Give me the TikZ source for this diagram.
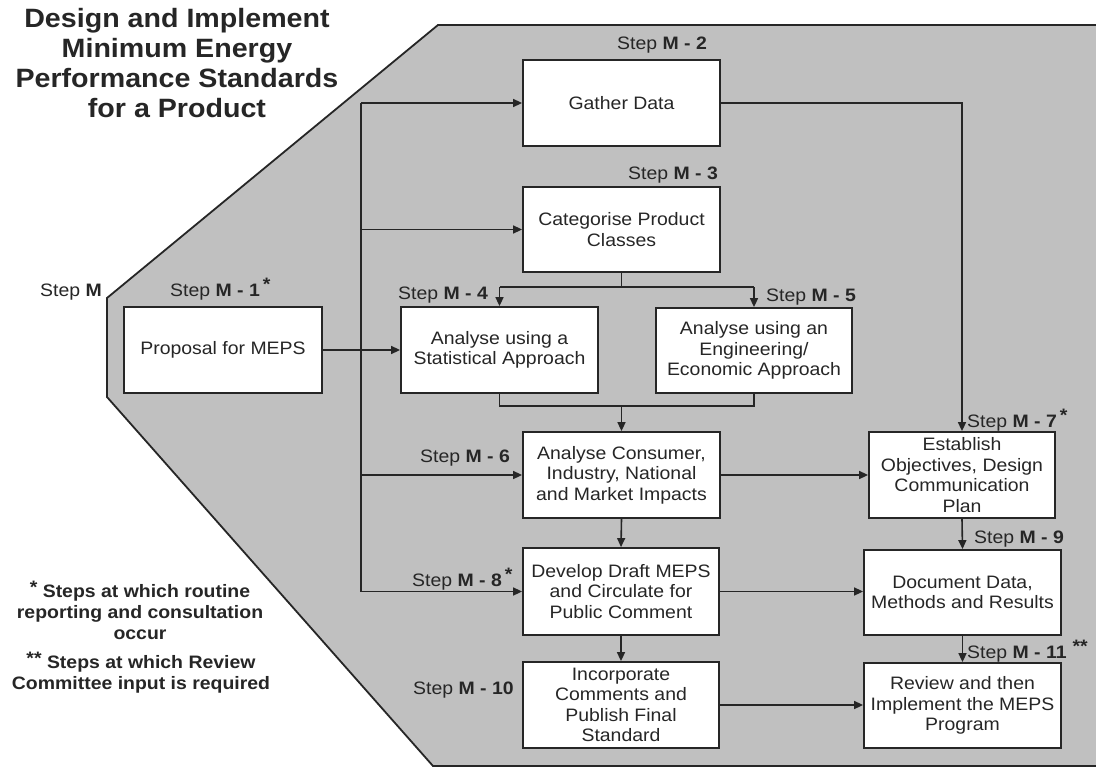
\documentclass[tikz,border=0pt]{standalone}
\usepackage{fontspec}
\setmainfont[FakeStretch=1.08]{Liberation Sans}
\usetikzlibrary{arrows.meta}
\definecolor{panel}{HTML}{C0C0C0}
\definecolor{ink}{HTML}{262626}
\begin{document}
\begin{tikzpicture}[x=1pt,y=-1pt,
  box/.style={draw=ink, line width=1.8pt, fill=white, align=center,
    font=\fontsize{18}{20.5}\selectfont, text=ink, inner sep=2pt},
  conn/.style={draw=ink, line width=1.6pt},
  arr/.style={conn, -{Triangle[length=9pt,width=8pt]}},
  steplbl/.style={anchor=base west, font=\fontsize{18}{20}\selectfont, text=ink, inner sep=0pt},
  titlestyle/.style={align=center, font=\fontsize{26.5}{29.7}\selectfont\bfseries, text=ink},
  legendstyle/.style={align=center, font=\fontsize{18}{21}\selectfont\bfseries, text=ink},
]
\useasboundingbox (0,0) rectangle (1096,768);
\fill[white] (0,0) rectangle (1096,768);
\draw[fill=panel, draw=ink, line width=1.8pt]
  (438,25) -- (1104,25) -- (1104,766) -- (433,766) -- (107,397) -- (107,298) -- cycle;

% title
\node[titlestyle] (title) at (177,63) {Design and Implement\\Minimum Energy\\Performance Standards\\for a Product};

% legend (base anchor = baseline of last line)
\node[legendstyle, anchor=base] (leg1) at (140,639) {\raisebox{4pt}{*} Steps at which routine\\reporting and consultation\\occur};
\node[legendstyle, anchor=base] (leg2) at (141,689) {\raisebox{4pt}{**} Steps at which Review\\Committee input is required};

% boxes
\node[box, minimum width=197pt, minimum height=86pt] (gather) at (621.5,103) {Gather Data};
\node[box, minimum width=197pt, minimum height=85pt] (categ) at (621.5,229.5) {Categorise Product\\Classes};
\node[box, minimum width=198pt, minimum height=86pt] (prop) at (223,350) {Proposal for MEPS};
\node[box, minimum width=197pt, minimum height=86pt] (stat) at (499.5,350) {Analyse using a\\Statistical Approach};
\node[box, minimum width=196pt, minimum height=85pt] (eng) at (754,350.5) {Analyse using an\\Engineering/\\Economic Approach};
\node[box, minimum width=197pt, minimum height=86pt] (cons) at (621.5,475) {Analyse Consumer,\\Industry, National\\and Market Impacts};
\node[box, minimum width=186pt, minimum height=86pt] (estab) at (962,475) {Establish\\Objectives, Design\\Communication\\Plan};
\node[box, minimum width=196pt, minimum height=87pt] (dev) at (621,591.5) {Develop Draft MEPS\\and Circulate for\\Public Comment};
\node[box, minimum width=197pt, minimum height=85pt] (doc) at (962.5,592.5) {Document Data,\\Methods and Results};
\node[box, minimum width=196pt, minimum height=86pt] (inc) at (621,705) {Incorporate\\Comments and\\Publish Final\\Standard};
\node[box, minimum width=197pt, minimum height=85pt] (rev) at (962.5,705.5) {Review and then\\Implement the MEPS\\Program};

% step labels
\node[steplbl] (lm)  at (40,296.5)  {Step \textbf{M}};
\node[steplbl] (l1)  at (170,296.5) {Step \textbf{M - 1}\,\raisebox{6pt}{\textbf{*}}};
\node[steplbl] (l2)  at (617,49.5)  {Step \textbf{M - 2}};
\node[steplbl] (l3)  at (628,179.5) {Step \textbf{M - 3}};
\node[steplbl] (l4)  at (398,299.5) {Step \textbf{M - 4}};
\node[steplbl] (l5)  at (766,301.5) {Step \textbf{M - 5}};
\node[steplbl] (l6)  at (420,462.5) {Step \textbf{M - 6}};
\node[steplbl] (l7)  at (967,427.5) {Step \textbf{M - 7}\,\raisebox{6pt}{\textbf{*}}};
\node[steplbl] (l8)  at (412,586.5) {Step \textbf{M - 8}\,\raisebox{6pt}{\textbf{*}}};
\node[steplbl] (l9)  at (974,543.5) {Step \textbf{M - 9}};
\node[steplbl] (l10) at (413,694.5) {Step \textbf{M - 10}};
\node[steplbl] (l11) at (967,658.5) {Step \textbf{M - 11}\,\,\raisebox{6pt}{\textbf{**}}};

% bus
\coordinate (busTop) at (361,103);
\coordinate (busBot) at (361,591.5);
\draw[conn] (busTop) -- (busBot);
\draw[arr] (busTop) -- (gather.west);
\draw[arr] (busTop |- categ.west) -- (categ.west);
\draw[arr] (busTop |- cons.west) -- (cons.west);
\draw[arr] (busBot) -- (dev.west);

% proposal
\draw[arr] (prop.east) -- (stat.west);

% split from categorise
\coordinate (split) at (621.5,287);
\draw[conn] (categ.south) -- (split);
\draw[conn] (stat.north |- split) -- (eng.north |- split);
\draw[arr] (stat.north |- split) -- (stat.north);
\draw[arr] (eng.north |- split) -- (eng.north);

% merge into consumer
\coordinate (merge) at (621.5,406);
\draw[conn] (stat.south) -- (stat.south |- merge) -- (eng.south |- merge) -- (eng.south);
\draw[arr] (merge) -- (cons.north);

% right side
\draw[arr] (gather.east) -| (estab.north);
\draw[arr] (cons.east) -- (estab.west);
\draw[arr] (cons.south) -- (dev.north);
\draw[arr] (estab.south) -- (doc.north);
\draw[arr] (dev.east) -- (dev.east -| doc.west);
\draw[arr] (dev.south) -- (inc.north);
\draw[arr] (doc.south) -- (rev.north);
\draw[arr] (inc.east) -- (inc.east -| rev.west);
\end{tikzpicture}
\end{document}
